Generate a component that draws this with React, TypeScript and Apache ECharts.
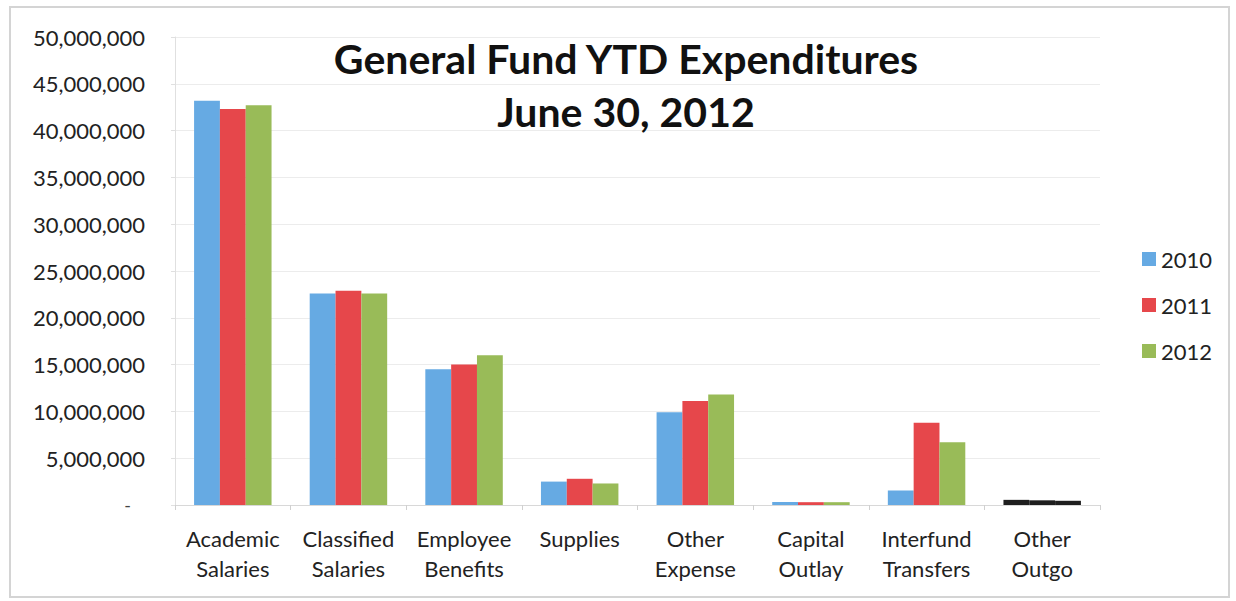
import React, { useEffect, useRef } from "react";
import * as echarts from "echarts";

const categories = [
  "Academic\nSalaries",
  "Classified\nSalaries",
  "Employee\nBenefits",
  "Supplies",
  "Other\nExpense",
  "Capital\nOutlay",
  "Interfund\nTransfers",
  "Other\nOutgo",
];
const years = ["2010", "2011", "2012"];
const values2010 = [43200000, 22600000, 14500000, 2500000, 9900000, 320000, 1550000, 550000];
const values2011 = [42300000, 22900000, 15000000, 2800000, 11100000, 300000, 8800000, 500000];
const values2012 = [42700000, 22600000, 16000000, 2300000, 11800000, 300000, 6700000, 450000];
const yTicks = { min: 0, max: 50000000, interval: 5000000 };

const colors = ["#66aae3", "#e6474b", "#99bb58"];
const FONT = "Lato";

export default function App() {
  const ref = useRef<HTMLDivElement>(null);
  useEffect(() => {
    document.body.style.margin = "0";
    const chart = echarts.init(ref.current!, null, { renderer: "svg" });
    const mk = (vals: number[]) =>
      vals.map((v, i) => (i === 7 ? { value: v, itemStyle: { color: "#1e1e1e" } } : v));
    chart.setOption({
      animation: false,
      backgroundColor: "#ffffff",
      title: {
        text: "General Fund YTD Expenditures\nJune 30, 2012",
        left: 621,
        textAlign: "center",
        top: 27,
        textStyle: {
          fontFamily: FONT,
          fontWeight: "bold",
          fontSize: 41,
          lineHeight: 53,
          color: "#111",
        },
      },
      legend: {
        orient: "vertical",
        left: 1137,
        top: 243,
        itemWidth: 14,
        itemHeight: 14,
        itemGap: 24,
        icon: "rect",
        data: years,
        textStyle: { fontFamily: FONT, fontSize: 22, color: "#222" },
      },
      grid: { left: 175, right: 136, top: 37, bottom: 96 },
      xAxis: {
        type: "category",
        data: categories,
        axisLine: { lineStyle: { color: "#d8d8d8" } },
        axisTick: { show: true, length: 5, lineStyle: { color: "#d0d0d0" } },
        axisLabel: {
          fontFamily: FONT,
          fontSize: 22,
          lineHeight: 30,
          color: "#222",
          margin: 18,
          interval: 0,
        },
      },
      yAxis: {
        type: "value",
        min: yTicks.min,
        max: yTicks.max,
        interval: yTicks.interval,
        axisLine: { show: true, lineStyle: { color: "#e0e0e0" } },
        axisTick: { show: true, length: 4, lineStyle: { color: "#e0e0e0" } },
        splitLine: { lineStyle: { color: "#ececec" } },
        axisLabel: {
          fontFamily: FONT,
          fontSize: 22,
          color: "#222",
          margin: 30,
          formatter: (v: number) => (v === 0 ? "{z|-}" : v.toLocaleString("en-US")),
          rich: { z: { fontSize: 18, padding: [0, 14, 0, 0], color: "#444" } },
        },
      },
      series: [
        { name: years[0], type: "bar", data: mk(values2010), itemStyle: { color: colors[0] }, barGap: "0%", barCategoryGap: "33%" },
        { name: years[1], type: "bar", data: mk(values2011), itemStyle: { color: colors[1] }, barGap: "0%", barCategoryGap: "33%" },
        { name: years[2], type: "bar", data: mk(values2012), itemStyle: { color: colors[2] }, barGap: "0%", barCategoryGap: "33%" },
      ],
      graphic: [
        {
          type: "rect",
          shape: { x: 10, y: 7, width: 1219, height: 590 },
          style: { fill: "none", stroke: "#d4d4d4", lineWidth: 2 },
          silent: true,
        },
      ],
    });
    return () => chart.dispose();
  }, []);
  return <div ref={ref} style={{ width: 1236, height: 601 }} />;
}
